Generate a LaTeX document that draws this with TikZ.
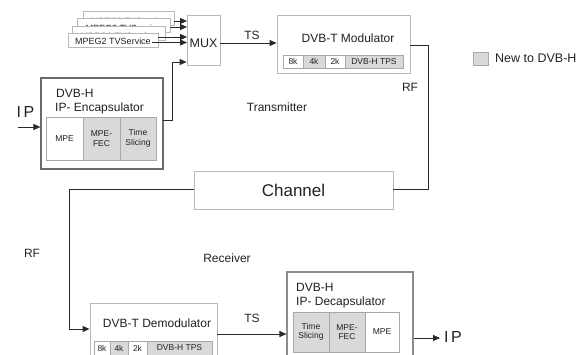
\documentclass[tikz,border=0pt]{standalone}
\usepackage{fontspec}
\setmainfont{Liberation Sans}
\usetikzlibrary{arrows.meta}
\definecolor{ink}{HTML}{222222}
\definecolor{lightedge}{HTML}{B8B8B8}
\definecolor{celledge}{HTML}{A8A8A8}
\definecolor{newfill}{HTML}{D9D9D9}
\definecolor{wire}{HTML}{2A2A2A}
\tikzset{
  box/.style={draw=lightedge, line width=0.8pt, fill=white, inner sep=0pt},
  unitbox/.style={draw=#1, line width=1.1pt, fill=white, inner sep=0pt},
  cell/.style={draw=celledge, line width=0.7pt, fill=white, inner sep=0pt, text=ink,
    font=\fontsize{8.5}{9.5}\selectfont, align=center},
  newcell/.style={cell, fill=newfill},
  title/.style={text=ink, inner sep=0pt, font=\fontsize{12}{14}\selectfont},
  lbl/.style={text=ink, inner sep=0pt, font=\fontsize{12}{14}\selectfont},
  svctext/.style={text=ink, inner sep=0pt, anchor=base, font=\fontsize{9}{10}\selectfont},
  wirestyle/.style={draw=wire, line width=0.9pt},
  arr/.style={wirestyle, -{Triangle[length=7pt,width=6pt]}},
}
\begin{document}
\begin{tikzpicture}[x=1pt,y=-1pt]
\useasboundingbox (0,0) rectangle (577,354);
\clip (0,0) rectangle (577,354);

% stacked TV services, back to front (each one hides most of the one behind)
\foreach \n/\cx/\cy/\w/\drop in {4/128.5/18/91/6, 3/123.5/25/93/6, 2/118.5/33/93/6, 1/113/40/90/4.2}{
  \node[box, minimum width=\w pt, minimum height=14pt] (svc\n) at (\cx,\cy) {};
  \node[svctext] (svct\n) at ([yshift=-\drop pt]svc\n.center) {MPEG2 TVService};
}

% multiplexer
\node[box, minimum width=33pt, minimum height=50pt] (mux) at (203.5,40) {};
\node[title, font=\fontsize{12.5}{14}\selectfont] (muxtext) at (203.5,43) {MUX};

% service feeds into the multiplexer
\coordinate (f4a) at (174,21); \coordinate (f4b) at (187,21);
\coordinate (f3a) at (170,27); \coordinate (f3b) at (187,27);
\coordinate (f2a) at (158,37); \coordinate (f2b) at (187,37);
\coordinate (f1a) at (152,42.5); \coordinate (f1b) at (187,42.5);
\foreach \n in {4,3,2,1}{ \draw[arr] (f\n a) -- (f\n b); }

% DVB-H IP encapsulator
\node[unitbox=black!58, minimum width=122pt, minimum height=91pt] (enc) at (102,123.5) {};
\node[title, anchor=west] (enct1) at (56,93) {DVB-H};
\node[title, anchor=west] (enct2) at (55,108) {IP- Encapsulator};
\node[cell, minimum width=37pt, minimum height=43pt] (encmpe) at (64.5,138.5) {MPE};
\node[newcell, minimum width=37pt, minimum height=43pt] (encfec) at (101.5,138.5) {MPE-\\FEC};
\node[newcell, minimum width=36pt, minimum height=43pt] (encts) at (138,138.5) {Time\\Slicing};

% IP input
\node[title, font=\fontsize{16}{18}\selectfont] (ipin) at (25.5,112) {I\,P};
\coordinate (ipsrc) at (18,127);
\draw[arr] (ipsrc) -- (ipsrc -| enc.west);

% encapsulator output to multiplexer
\coordinate (encout) at (163,120);
\coordinate (encbend) at (172,120);
\draw[arr] (encout) -- (encbend) |- (mux.west |- 0,62);

% DVB-T modulator
\node[box, minimum width=133pt, minimum height=58pt] (mod) at (343.5,44) {};
\node[title] (modt) at (348,38) {DVB-T Modulator};
\node[cell, minimum width=20pt, minimum height=13pt] (m8k) at (293,61.5) {8k};
\node[newcell, minimum width=22pt, minimum height=13pt] (m4k) at (314,61.5) {4k};
\node[cell, minimum width=20pt, minimum height=13pt] (m2k) at (335,61.5) {2k};
\node[newcell, minimum width=58pt, minimum height=13pt] (mtps) at (374,61.5) {DVB-H TPS};

\coordinate (muxout) at (220,43);
\draw[arr] (muxout) -- (muxout -| mod.west);
\node[lbl] (ts1) at (252,35) {TS};

\node[lbl] (tx) at (277,107.5) {Transmitter};
\node[lbl] (rf1) at (410,87) {RF};

% legend
\node[box, draw=celledge, fill=newfill, minimum width=15pt, minimum height=13pt] (leg) at (480.5,58.5) {};
\node[lbl, anchor=west, font=\fontsize{12.5}{14}\selectfont] (legt) at (495,58.5) {New to DVB-H};

% channel
\node[box, minimum width=199pt, minimum height=38pt] (chan) at (293.5,190) {};
\node[title, font=\fontsize{17}{19}\selectfont] (chant) at (293.5,190) {Channel};

\coordinate (modout) at (410,45);
\coordinate (rfbend) at (428,45);
\draw[wirestyle] (modout) -- (rfbend) |- (chan.east |- 0,189);

% DVB-T demodulator
\node[box, minimum width=127pt, minimum height=62pt] (demod) at (153.5,334) {};
\node[title] (demodt) at (157,323) {DVB-T Demodulator};
\node[cell, minimum width=16pt, minimum height=14pt] (d8k) at (102,348) {8k};
\node[newcell, minimum width=18pt, minimum height=14pt] (d4k) at (119,348) {4k};
\node[cell, minimum width=19pt, minimum height=14pt] (d2k) at (137.5,348) {2k};
\node[newcell, minimum width=65pt, minimum height=14pt] (dtps) at (179.5,348) {DVB-H TPS};

\coordinate (chanout) at (194,189);
\coordinate (rxbend) at (69,189);
\draw[arr] (chanout) -- (rxbend) |- (demod.west |- 0,329);
\node[lbl] (rf2) at (32,253) {RF};
\node[lbl] (rx) at (227,258) {Receiver};

% DVB-H IP decapsulator
\node[unitbox=black!45, minimum width=126pt, minimum height=90pt] (dec) at (350,317) {};
\node[title, anchor=west] (dect1) at (296,287) {DVB-H};
\node[title, anchor=west] (dect2) at (296,302) {IP- Decapsulator};
\node[newcell, minimum width=36pt, minimum height=40pt] (dects) at (311,332) {Time\\Slicing};
\node[newcell, minimum width=36pt, minimum height=40pt] (decfec) at (347,332) {MPE-\\FEC};
\node[cell, minimum width=34pt, minimum height=40pt] (decmpe) at (382,332) {MPE};

\coordinate (demodout) at (217,334);
\draw[arr] (demodout) -- (demodout -| dec.west);
\node[lbl] (ts2) at (252,318) {TS};

% IP output
\coordinate (ipout) at (440,338);
\draw[arr] (dec.east |- ipout) -- (ipout);
\node[title, font=\fontsize{16}{18}\selectfont] (ipo) at (453,337) {I\,P};
\end{tikzpicture}
\end{document}
